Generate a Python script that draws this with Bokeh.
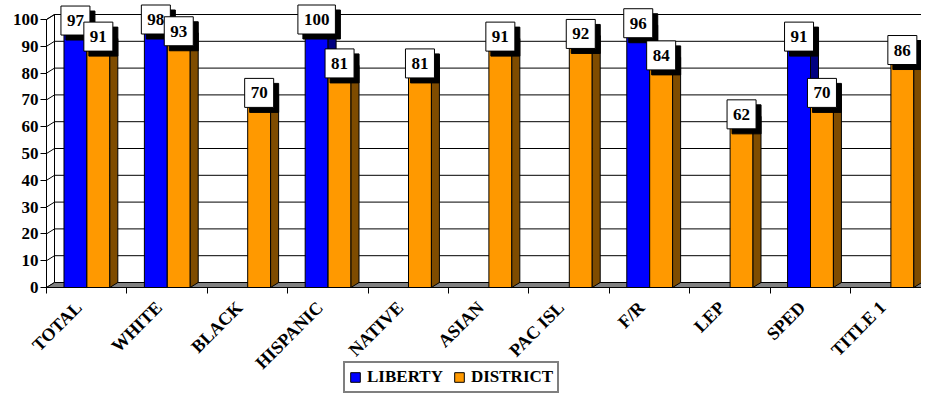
import math
from bokeh.plotting import figure
from bokeh.models import Range1d, FixedTicker, Legend, LegendItem, ColumnDataSource
from bokeh.core.properties import value
from bokeh.embed import file_html
from bokeh.resources import INLINE

# ---- data ----
categories = ["TOTAL", "WHITE", "BLACK", "HISPANIC", "NATIVE", "ASIAN",
              "PAC ISL", "F/R", "LEP", "SPED", "TITLE 1"]
liberty = [97, 98, None, 100, None, None, None, 96, None, 91, None]
district = [91, 93, 70, 81, 81, 91, 92, 84, 62, 70, 86]
y_ticks = [0, 10, 20, 30, 40, 50, 60, 70, 80, 90, 100]
series_names = ["LIBERTY", "DISTRICT"]

# ---- geometry / style ----
FONT = value("Liberation Serif")
W, H = 921, 394
LEFT = 46            # pixel column of the front value axis
BASE = 287           # pixel row of value 0
PX_X = 80.4          # pixels per category
PX_Y = 2.68          # pixels per value unit
DX = 8 / PX_X        # 3D depth in data units
DY = 5 / PX_Y
BAR_W = 0.285
OFFS = [-0.14, 0.145]
FRONT = ["#0000FF", "#FF9900"]
SIDE = ["#000080", "#7F4C00"]
TOP = ["#0000E0", "#FFA31A"]
LABEL_UP = 7 / PX_Y
LABEL_SHIFT = 0.1
LEGEND_X = 343

n = len(categories)
x_start = -LEFT / PX_X
x_end = (W - LEFT) / PX_X
y_end = BASE / PX_Y
y_start = -(H - BASE) / PX_Y

p = figure(width=W, height=H, output_backend="svg", toolbar_location=None,
           x_range=Range1d(x_start, x_end), y_range=Range1d(y_start, y_end),
           min_border_left=0, min_border_right=0, min_border_top=0,
           min_border_bottom=0)
p.outline_line_color = None
p.background_fill_color = "white"
p.border_fill_color = "white"
p.xgrid.visible = False
p.ygrid.visible = False

# ---- walls, grid, floor ----
top_val = y_ticks[-1]
p.patch([0, DX, DX, 0], [0, DY, top_val + DY, top_val],
        fill_color="white", line_color="black", line_width=1)
gx0, gy0, gx1, gy1 = [], [], [], []
for t in y_ticks[1:]:
    gx0 += [0, DX]
    gy0 += [t, t + DY]
    gx1 += [DX, n + 1]
    gy1 += [t + DY, t + DY]
p.segment(x0=gx0, y0=gy0, x1=gx1, y1=gy1, line_color="black", line_width=1)
p.segment(x0=[DX], y0=[DY], x1=[DX], y1=[top_val + DY], line_color="black", line_width=1)
p.patch([0, n + 1, n + 1 + DX, DX], [0, 0, DY, DY],
        fill_color="#808080", line_color="black", line_width=1)

# ---- bars ----
front_renderers = []
label_x, label_y, label_t = [], [], []
for s, vals in enumerate([liberty, district]):
    L, R, B, T = [], [], [], []
    sxs, sys, txs, tys = [], [], [], []
    for i, v in enumerate(vals):
        if v is None:
            continue
        cx = i + 0.5 + OFFS[s]
        l, r = cx - BAR_W / 2, cx + BAR_W / 2
        L.append(l); R.append(r); B.append(0); T.append(v)
        sxs.append([r, r + DX, r + DX, r]); sys.append([0, DY, v + DY, v])
        txs.append([l, l + DX, r + DX, r]); tys.append([v, v + DY, v + DY, v])
        label_x.append(cx)
        label_y.append(min(v + LABEL_UP, top_val))
        label_t.append(str(v))
    fr = p.quad(left=L, right=R, bottom=B, top=T, fill_color=FRONT[s],
                line_color="black", line_width=1)
    p.patches(sxs, sys, fill_color=SIDE[s], line_color="black", line_width=1)
    p.patches(txs, tys, fill_color=TOP[s], line_color="black", line_width=1)
    front_renderers.append(fr)

# ---- data labels (shadow + box) ----
lsrc = ColumnDataSource(dict(x=label_x, y=label_y, t=label_t))
pad = dict(left=6, right=6, top=9, bottom=9)
common = dict(x="x", y="y", text="t", source=lsrc, text_font=FONT,
              text_font_style="bold", text_font_size="17px",
              text_align="center", text_baseline="middle", padding=pad)
p.text(text_color="black", background_fill_color="black",
       border_line_color="black", x_offset=5, y_offset=5, **common)
p.text(text_color="black", background_fill_color="white",
       border_line_color="black", border_line_width=1, **common)

# ---- axes ----
ya = p.yaxis[0]
ya.fixed_location = 0
ya.ticker = FixedTicker(ticks=y_ticks)
ya.bounds = (y_ticks[0], y_ticks[-1])
ya.major_tick_out = 6
ya.major_tick_in = 0
ya.minor_tick_out = 0
ya.minor_tick_in = 0
ya.major_label_standoff = 2
ya.major_label_text_font = "Liberation Serif"
ya.major_label_text_font_style = "bold"
ya.major_label_text_font_size = "17px"
ya.major_label_text_color = "black"
ya.axis_line_color = "black"
ya.major_tick_line_color = "black"

xa = p.xaxis[0]
xa.fixed_location = 0
centers = [i + 0.5 - LABEL_SHIFT for i in range(n)]
xa.ticker = FixedTicker(ticks=centers, minor_ticks=list(range(n + 1)))
xa.bounds = (0, x_end)
xa.major_label_overrides = {c: name for c, name in zip(centers, categories)}
xa.major_tick_out = 0
xa.major_tick_in = 0
xa.minor_tick_out = 6
xa.minor_tick_in = 0
xa.minor_tick_line_color = "black"
xa.major_label_orientation = math.pi / 4
xa.major_label_standoff = 11
xa.major_label_text_font = "Liberation Serif"
xa.major_label_text_font_style = "bold"
xa.major_label_text_font_size = "18px"
xa.major_label_text_color = "black"
xa.axis_line_color = "black"

# ---- legend ----
legend = Legend(items=[LegendItem(label=series_names[0], renderers=[front_renderers[0]]),
                       LegendItem(label=series_names[1], renderers=[front_renderers[1]])],
                orientation="horizontal", location=(LEGEND_X, 1),
                border_line_color="black", border_line_width=2,
                background_fill_color="white", background_fill_alpha=1,
                label_text_font="'Liberation Serif', serif", label_text_font_style="bold",
                label_text_font_size="17px", label_text_color="black",
                glyph_width=12, glyph_height=12, label_standoff=6,
                label_height=18, spacing=10, padding=4, margin=0)
p.add_layout(legend, "center")

open("out.html", "w").write(file_html(p, INLINE))
